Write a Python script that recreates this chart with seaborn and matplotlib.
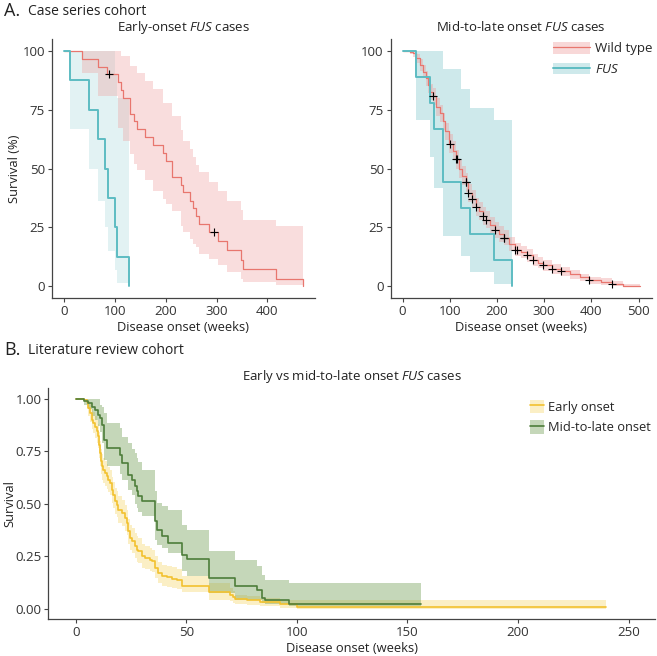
import numpy as np
import matplotlib
matplotlib.use("Agg")
import matplotlib.pyplot as plt
from matplotlib.patches import Patch
from matplotlib.lines import Line2D
import seaborn as sns

# ---- A. case series, early onset (weeks, survival %) ----
wt_early_t = [0, 36, 67, 85, 106, 113, 116, 130, 138, 143, 159, 176, 195, 201, 213, 231, 235,
              247, 253, 260, 266, 285, 302, 321, 349, 353, 416, 470]
wt_early_s = [100, 96.7, 93.3, 90, 86.7, 83.3, 80, 73.3, 70, 66.7, 63.3, 60, 56.7, 53.3, 46.5,
              43.2, 39.9, 36.4, 33.1, 29.8, 26.5, 23.0, 19.2, 15.2, 11.0, 7.2, 3.2, 0]
wt_early_hi = [100, 100, 100, 100, 100, 97.7, 97.7, 93.5, 93.5, 90.7, 87.2, 83.7, 78, 78, 72.4,
               66.5, 61.8, 58.3, 55, 51.6, 48.4, 44.1, 40.6, 36.4, 32.4, 28.2, 25.8, 25.8]
wt_early_lo = [100, 90.7, 80.8, 80.8, 67.4, 67.4, 61.8, 56.2, 52, 49.2, 45, 40.6, 37, 35, 32,
               25.8, 23, 20, 18, 16.6, 13.8, 11.7, 8.9, 6, 3.2, 1.8, 0.4, 0.4]
wt_early_cens = [88, 296]

fus_early_t = [0, 12, 50, 67, 81, 86, 100, 104, 127]
fus_early_s = [100, 87.5, 75, 62.5, 50, 37.5, 25, 12.5, 0]
fus_early_hi = [100, 100, 100, 100, 100, 100, 90, 80, 80]
fus_early_lo = [100, 67, 50, 36, 25, 15, 7, 1.3, 0]

# ---- A. case series, mid-to-late onset ----
wt_late_t = [0, 15, 22, 29.5, 36, 43, 49, 54, 57.5, 64.5, 71.5, 78.5, 85.5, 91, 99.5, 106, 113.8,
             120.7, 127, 134.8, 139.7, 146.7, 155.9, 162, 169.9, 176.9, 186, 195.9, 205, 214, 226,
             238.7, 250, 264.7, 277.3, 288, 298.3, 316, 335, 355, 375, 396, 420, 443.7, 468, 503]
wt_late_s = [100, 99.5, 98.9, 96.8, 94, 91.2, 88.3, 85.5, 82.7, 80.6, 76.3, 73.5, 70, 65.8, 60.6,
             57.5, 54, 49.7, 47, 44.1, 39.6, 37.1, 33.6, 32, 30, 28.2, 26, 24, 22.3, 20.6, 18,
             15.5, 14.5, 13.1, 11.3, 10, 8.9, 7.2, 6.3, 5, 3.8, 2.5, 2, 1.1, 0, 0]
wt_late_hi = [100, 100, 99.9, 98.5, 96.5, 94, 91.5, 89, 86, 84, 80, 77, 73.5, 69.5, 64.5, 61.5,
              58, 53.5, 51, 48, 43.5, 41, 37.5, 35.8, 33.8, 31.8, 29.5, 27.3, 25.5, 23.7, 21,
              18.3, 17.2, 15.7, 13.8, 12.4, 11.2, 9.3, 8.3, 6.8, 5.4, 4, 3.4, 2.4, 1, 1]
wt_late_lo = [100, 98.5, 97.5, 94.8, 91.5, 88.3, 85, 82, 79, 77, 72.5, 69.8, 66.3, 62, 56.8, 53.5,
              50, 46, 43, 40.2, 35.8, 33.2, 29.7, 28.2, 26.2, 24.6, 22.5, 20.7, 19, 17.5, 15,
              12.7, 11.8, 10.5, 8.8, 7.6, 6.6, 5.1, 4.3, 3.2, 2.2, 1, 0.6, 0, 0, 0]
wt_late_cens = [64.5, 99.6, 113.8, 116, 134.8, 135.5, 139.7, 146.7, 155.9, 169.9, 176.9, 195.9,
                214, 216, 238.7, 242, 264.7, 277.3, 298.3, 316, 335, 396, 443.7]

fus_late_t = [0, 28, 58, 67, 86, 124, 142, 193, 233]
fus_late_s = [100, 88.9, 77.8, 66.7, 44.4, 33.3, 22.2, 11.1, 0]
fus_late_hi = [100, 100, 100, 100, 92.1, 83.6, 75.5, 70.5, 70.5]
fus_late_lo = [100, 70.5, 54.7, 41.6, 21.2, 12.7, 6.1, 1.1, 1.1]

# ---- B. literature review (survival fraction) ----
early_t = [0, 3.8, 4.8, 5.6, 6.3, 7.1, 7.8, 8.6, 9.4, 10.1, 10.4, 10.9, 11.3, 11.6, 12.4, 13.1,
           13.9, 14.6, 15.4, 16.2, 16.9, 17.7, 18.4, 19.2, 20.7, 22.2, 22.9, 23.7, 24.5, 25.2,
           26.7, 27.5, 28.2, 29.7, 31.3, 33.5, 34.3, 35.8, 37.3, 38.8, 41.1, 43.3, 45.6, 47.9,
           60, 69.8, 71.2, 72, 77.3, 83.4, 92.4, 100, 240]
early_s = [1, .995, .987, .955, .932, .900, .884, .868, .845, .821, .781, .742, .702, .678, .662,
           .646, .631, .615, .599, .567, .543, .512, .496, .472, .456, .433, .409, .369, .338,
           .322, .298, .282, .274, .250, .242, .234, .226, .195, .171, .155, .150, .144, .139,
           .107, .079, .066, .055, .048, .040, .032, .021, .008, .008]
early_hi = [1, 1, 1, .99, .975, .95, .935, .92, .9, .88, .84, .8, .76, .735, .72, .705, .69, .675,
            .66, .63, .605, .575, .56, .535, .52, .495, .47, .43, .40, .385, .36, .345, .335, .31,
            .30, .29, .28, .25, .225, .21, .205, .2, .19, .157, .123, .10, .085, .068, .06, .05,
            .044, .044, .044]
early_lo = [1, .985, .97, .92, .89, .855, .835, .815, .79, .765, .72, .68, .64, .615, .6, .585,
            .57, .555, .54, .505, .48, .45, .435, .41, .395, .37, .35, .31, .28, .265, .24, .225,
            .218, .195, .188, .18, .173, .145, .125, .11, .105, .1, .095, .079, .044, .035, .028,
            .023, .018, .012, .005, 0, 0]

late_t = [0, 3.8, 5.6, 7.1, 8.6, 9.8, 10.9, 11.6, 12.8, 13.9, 19.9, 20.7, 23.7, 25.2, 26.7,
          27.5, 28.2, 29.7, 35.8, 36.5, 38.8, 41.8, 47.9, 50.1, 60, 72, 81.9, 84.1, 85.6, 96.2, 156]
late_s = [1, .99, .979, .963, .948, .924, .908, .876, .805, .765, .734, .694, .639, .615, .583,
          .559, .535, .512, .417, .377, .345, .314, .258, .238, .147, .11, .092, .052, .04, .021, .021]
late_hi = [1, 1, 1, 1, 1, 1, .97, .96, .93, .884, .86, .82, .79, .76, .742, .72, .70, .662, .56,
           .503, .49, .472, .40, .377, .274, .231, .202, .162, .138, .123, .123]
late_lo = [1, .97, .95, .92, .9, .87, .84, .79, .71, .678, .64, .615, .567, .54, .50, .48, .46,
           .44, .33, .306, .29, .266, .18, .155, .075, .044, .04, .03, .021, .013, .013]

RED, TEAL = "#E8766E", "#5DBCC2"
YEL, GRN = "#F2C12E", "#4E7D3A"
GREY = "#444444"

sns.set_style("ticks")
plt.rcParams["font.family"] = ["Open Sans", "DejaVu Sans"]
plt.rcParams["mathtext.fontset"] = "custom"
plt.rcParams["mathtext.rm"] = "Open Sans"
plt.rcParams["mathtext.it"] = "Open Sans:italic"
plt.rcParams["axes.edgecolor"] = GREY
plt.rcParams["xtick.color"] = GREY
plt.rcParams["ytick.color"] = GREY
plt.rcParams["xtick.labelcolor"] = "#333333"
plt.rcParams["ytick.labelcolor"] = "#333333"


def km(ax, t, s, lo, hi, color, fill, alpha, lw):
    ax.fill_between(t, lo, hi, step="post", color=fill, alpha=alpha, lw=0)
    sns.lineplot(x=t, y=s, ax=ax, color=color, lw=lw, drawstyle="steps-post",
                 estimator=None, sort=False)


def censor(ax, t, s, ct):
    idx = np.searchsorted(t, ct, side="right") - 1
    ax.plot(ct, np.asarray(s)[idx], "+", color="black", ms=6, mew=0.8, zorder=5)


def style(ax, title, ylabel, xlab="Disease onset (weeks)"):
    sns.despine(ax=ax)
    ax.set_title(title, fontsize=9.5, color="#222222", pad=6)
    ax.set_xlabel(xlab, fontsize=9.3, color="#222222", labelpad=2)
    ax.set_ylabel(ylabel, fontsize=9.3, color="#222222", labelpad=4)
    ax.tick_params(labelsize=9.5, length=3, width=0.8, pad=2)
    for sp in ax.spines.values():
        sp.set_linewidth(0.9)


fig = plt.figure(figsize=(6.57, 6.56), dpi=100)
ax1 = fig.add_axes([0.0791, 0.5457, 0.4003, 0.3948])
ax2 = fig.add_axes([0.5947, 0.5457, 0.3973, 0.3948])
ax3 = fig.add_axes([0.0735, 0.0559, 0.9235, 0.3522])

# panel A left
ax1.fill_between(fus_early_t, fus_early_lo, fus_early_hi, step="post", color="#9fd4d8", alpha=0.3, lw=0)
ax1.fill_between(wt_early_t, wt_early_lo, wt_early_hi, step="post", color="#ee9f9f", alpha=0.35, lw=0)
sns.lineplot(x=wt_early_t, y=wt_early_s, ax=ax1, color=RED, lw=0.9, drawstyle="steps-post",
             estimator=None, sort=False)
sns.lineplot(x=fus_early_t, y=fus_early_s, ax=ax1, color=TEAL, lw=1.4, drawstyle="steps-post",
             estimator=None, sort=False)
censor(ax1, wt_early_t, wt_early_s, wt_early_cens)
ax1.set_xlim(-23.5, 493.5)
ax1.set_ylim(-5, 105)
ax1.set_xticks([0, 100, 200, 300, 400])
ax1.set_yticks([0, 25, 50, 75, 100])
style(ax1, r"Early-onset $\mathit{FUS}$ cases", "Survival (%)")
ax1.yaxis.set_label_coords(-0.118, 0.5)

# panel A right
ax2.fill_between(fus_late_t, fus_late_lo, fus_late_hi, step="post", color="#8ccbd0", alpha=0.42, lw=0)
km(ax2, wt_late_t, wt_late_s, wt_late_lo, wt_late_hi, RED, "#ee9f9f", 0.4, 0.9)
sns.lineplot(x=fus_late_t, y=fus_late_s, ax=ax2, color=TEAL, lw=1.4, drawstyle="steps-post",
             estimator=None, sort=False)
censor(ax2, wt_late_t, wt_late_s, wt_late_cens)
ax2.set_xlim(-25, 528)
ax2.set_ylim(-5, 105)
ax2.set_xticks([0, 100, 200, 300, 400, 500])
ax2.set_yticks([0, 25, 50, 75, 100])
style(ax2, r"Mid-to-late onset $\mathit{FUS}$ cases", "")
h_wt = (Patch(color="#ee9f9f", alpha=0.4, lw=0), Line2D([], [], color=RED, lw=0.9))
h_fus = (Patch(color="#8ccbd0", alpha=0.42, lw=0), Line2D([], [], color=TEAL, lw=1.4))
ax2.legend([h_wt, h_fus], ["Wild type", r"$\mathit{FUS}$"], loc="upper right",
           bbox_to_anchor=(1.05, 1.035), frameon=False, fontsize=9.5, handlelength=2.8,
           handleheight=1.0, labelspacing=0.55, handletextpad=0.4)

# panel B
km(ax3, early_t, early_s, early_lo, early_hi, YEL, "#f5d25a", 0.35, 1.2)
km(ax3, late_t, late_s, late_lo, late_hi, GRN, "#6f9c52", 0.4, 1.2)
ax3.set_xlim(-12.5, 262)
ax3.set_ylim(-0.05, 1.05)
ax3.set_xticks([0, 50, 100, 150, 200, 250])
ax3.set_yticks([0, 0.25, 0.5, 0.75, 1.0])
ax3.set_yticklabels(["0.00", "0.25", "0.50", "0.75", "1.00"])
style(ax3, r"Early vs mid-to-late onset $\mathit{FUS}$ cases", "Survival")
ax3.yaxis.set_label_coords(-0.052, 0.5)
h_e = (Patch(color="#f5d25a", alpha=0.35, lw=0), Line2D([], [], color=YEL, lw=1.2))
h_l = (Patch(color="#6f9c52", alpha=0.4, lw=0), Line2D([], [], color=GRN, lw=1.2))
ax3.legend([h_e, h_l], ["Early onset", "Mid-to-late onset"], loc="upper right",
           bbox_to_anchor=(1.012, 1.0), frameon=False, fontsize=9.3, handlelength=1.1,
           handleheight=1.2, labelspacing=0.5, handletextpad=0.3)

# section headings
fig.text(0.006, 0.997, "A.", fontsize=13, va="top", color="#222222")
fig.text(0.042, 0.994, "Case series cohort", fontsize=10, va="top", color="#222222")
fig.text(0.006, 0.480, "B.", fontsize=13, va="top", color="#222222")
fig.text(0.042, 0.477, "Literature review cohort", fontsize=10, va="top", color="#222222")

fig.savefig("out.png", dpi=100)
